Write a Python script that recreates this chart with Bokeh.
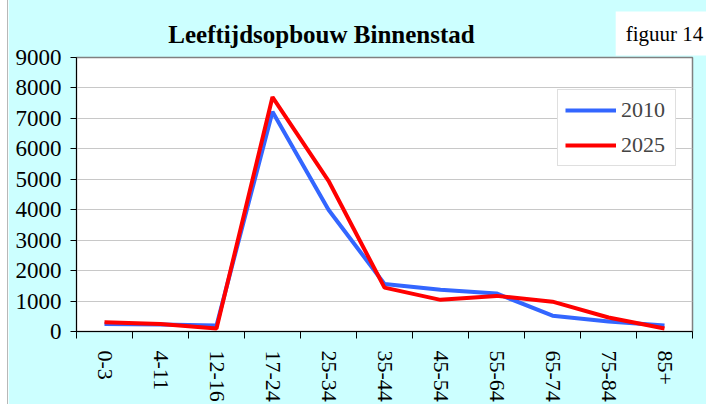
import math
from bokeh.plotting import figure
from bokeh.models import Range1d, FixedTicker, Label, Legend, LegendItem, BoxAnnotation
from bokeh.embed import file_html
from bokeh.resources import INLINE

categories = ["0-3", "4-11", "12-16", "17-24", "25-34", "35-44", "45-54", "55-64", "65-74", "75-84", "85+"]
values_2010 = [250, 230, 200, 7220, 4000, 1560, 1370, 1250, 520, 330, 200]
values_2025 = [300, 250, 100, 7700, 4950, 1440, 1040, 1170, 980, 460, 100]
y_ticks = [0, 1000, 2000, 3000, 4000, 5000, 6000, 7000, 8000, 9000]
title_text = "Leeftijdsopbouw Binnenstad"
figure_text = "figuur 14"

FONT = "Liberation Serif"
xs = [i + 0.5 for i in range(len(categories))]

TOP = 100
SHIFT = TOP - 57  # canvas y of page y 0
p = figure(width=698, height=TOP + 276 + 71, output_backend="svg", toolbar_location=None,
           x_range=Range1d(0, len(categories)), y_range=Range1d(0, 9000),
           min_border_left=68, min_border_right=14, min_border_top=TOP, min_border_bottom=71,
           background_fill_color="white", border_fill_color="#CCFFFF",
           outline_line_color="#808080", outline_line_width=1.5)
p.margin = (-SHIFT, 0, 0, 8)
p.styles = {"outline": "1px solid #b8b8b8"}
p.title = None

r1 = p.line(xs, values_2010, line_color="#3366FF", line_width=4)
r2 = p.line(xs, values_2025, line_color="#FF0000", line_width=4)

# y axis
p.yaxis.ticker = FixedTicker(ticks=y_ticks)
p.yaxis.major_label_text_font = FONT
p.yaxis.major_label_text_font_size = "23px"
p.yaxis.major_label_text_color = "black"
p.yaxis.axis_line_color = "black"
p.yaxis.major_tick_line_color = "black"
p.yaxis.major_tick_out = 6
p.yaxis.major_tick_in = 0
p.yaxis.minor_tick_line_color = None
p.yaxis.major_label_standoff = 9

# x axis
p.xaxis.ticker = FixedTicker(ticks=xs, minor_ticks=list(range(len(categories) + 1)))
p.xaxis.major_label_overrides = {x: c for x, c in zip(xs, categories)}
p.xaxis.major_label_orientation = -math.pi / 2
p.xaxis.major_label_text_font = FONT
p.xaxis.major_label_text_font_size = "22px"
p.xaxis.major_label_text_color = "black"
p.xaxis.major_tick_line_color = None
p.xaxis.minor_tick_line_color = "black"
p.xaxis.minor_tick_out = 7
p.xaxis.minor_tick_in = 0
p.xaxis.axis_line_color = "black"
p.xaxis.major_label_standoff = 12

p.xgrid.grid_line_color = None
p.ygrid.grid_line_color = "#C8C8C8"
p.ygrid.grid_line_width = 1

legend = Legend(items=[LegendItem(label="2010", renderers=[r1]),
                       LegendItem(label="2025", renderers=[r2])],
                location=(481, 165))
legend.label_text_font = FONT
legend.label_text_font_size = "22px"
legend.glyph_width = 51
legend.glyph_height = 20
legend.label_standoff = 5
legend.label_height = 20
legend.label_width = 47
legend.spacing = 9
legend.padding = 7
legend.margin = 0
legend.border_line_color = "#C0C0C0"
legend.border_line_width = 1
legend.background_fill_color = "white"
legend.background_fill_alpha = 1
p.add_layout(legend, "center")

top_strip = BoxAnnotation(left=0, right=698, top=SHIFT, bottom=SHIFT + 11,
                          left_units="canvas", right_units="canvas",
                          top_units="canvas", bottom_units="canvas",
                          fill_color="white", fill_alpha=1, line_color=None)
p.add_layout(top_strip, "above")

title_label = Label(x=313, y=SHIFT + 34, x_units="canvas", y_units="canvas", text=title_text,
                    text_font=FONT, text_font_size="25px", text_font_style="bold",
                    text_align="center", text_baseline="middle", text_color="black")
p.add_layout(title_label, "above")

fig_label = Label(x=656, y=SHIFT + 33, x_units="canvas", y_units="canvas", text=figure_text,
                  text_font=FONT, text_font_size="21px", text_align="center",
                  text_baseline="middle", text_color="black",
                  background_fill_color="white", background_fill_alpha=1,
                  padding=10)
p.add_layout(fig_label, "above")

open("out.html", "w").write(file_html(p, INLINE))
